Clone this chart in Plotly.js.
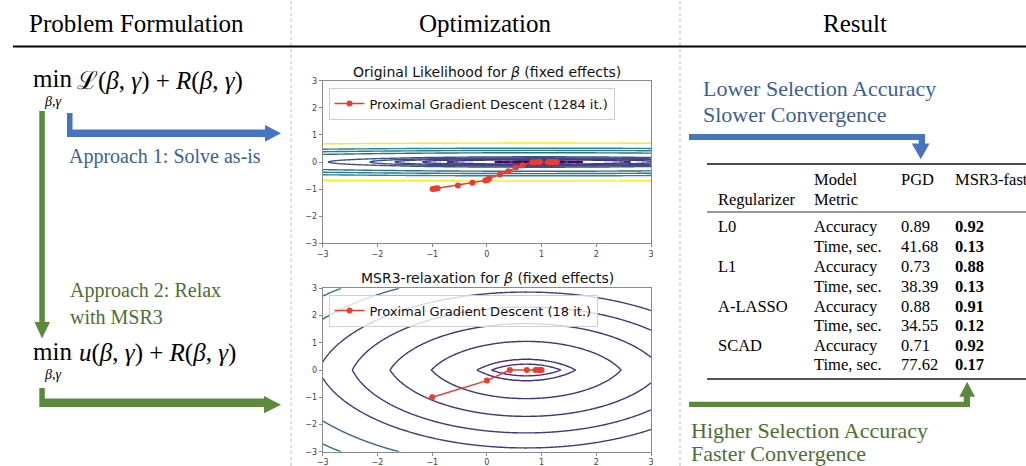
<!DOCTYPE html>
<html>
<head>
<meta charset="utf-8">
<script src="https://cdn.plot.ly/plotly-3.0.1.min.js"></script>
<style>html,body{margin:0;padding:0;background:#fff;}#chart{width:1026px;height:466px;}</style>
</head>
<body>
<div id="chart"></div>
<script>
// ---------------- data ----------------
// Top panel: proximal gradient descent path on original likelihood (1284 it.)
const pgdX = [-0.99, -0.96, -0.93, -0.90, -0.53, -0.265, -0.03, 0.01, 0.04, 0.24, 0.39, 0.53, 0.65, 0.83, 0.87, 0.94, 0.97, 1.12, 1.16, 1.20, 1.24, 1.28];
const pgdY = [-1.00, -0.99, -0.98, -0.97, -0.87, -0.77, -0.68, -0.66, -0.61, -0.46, -0.34, -0.20, -0.12, -0.01, -0.01, 0, 0, 0, 0, 0, 0, 0];
// Bottom panel: proximal gradient descent path on MSR3 relaxation (18 it.)
const msrX = [-1.00, 0.00, 0.42, 0.73, 0.89, 0.95, 0.98, 1.00];
const msrY = [-1.00, -0.39, 0.00, 0.00, 0.00, 0.00, 0.00, 0.00];

// contour levels of the two objective surfaces
const levelsTop = [0.24, 0.64, 2.8, 4.5, 6.9, 9.5, 14.7, 47, 73, 104, 195];
const levelsBottom = [0.4, 0.8, 3.0, 6.2, 10.1, 14.4, 21.0, 27.0];
// parameters of the surfaces
const topCenter = 0.95, topYScale = 400;              // L(b) ~ (x-c)^2 + K*y^2
const botCenter = 0.72, botQuad = 1.2, botAbs = 1.6;  // u(b) ~ (x-c)^2 + q*y^2 + a*|y|

const tickVals = [-3, -2, -1, 0, 1, 2, 3];
const tickText = ['\u22123', '\u22122', '\u22121', '0', '1', '2', '3'];

const headers = ['Problem Formulation', 'Optimization', 'Result'];
const tableHead1 = ['', 'Model', 'PGD', 'MSR3-fast'];
const tableHead2 = ['Regularizer', 'Metric', '', ''];
const regularizers = ['L0', '', 'L1', '', 'A-LASSO', '', 'SCAD', ''];
const metrics = ['Accuracy', 'Time, sec.', 'Accuracy', 'Time, sec.', 'Accuracy', 'Time, sec.', 'Accuracy', 'Time, sec.'];
const pgdVals = ['0.89', '41.68', '0.73', '38.39', '0.88', '34.55', '0.71', '77.62'];
const msr3Vals = ['0.92', '0.13', '0.88', '0.13', '0.91', '0.12', '0.92', '0.17'];

// ---------------- styles ----------------
const colorsTop = ['#440154', '#45075a', '#46307e', '#443a83', '#414487', '#3e4c8a', '#3b528b', '#2e6f8e', '#2a7b8e', '#26888d', '#fde725'];
const colorsBottom = ['#46307e', '#46307e', '#45327f', '#45327f', '#443581', '#433882', '#33648d', '#2c768e'];
const W = 1026, H = 466;
const X = px => px / W;
const Y = py => 1 - py / H;
const BLUE = '#4674c1', BLUE_T = '#3d5f94', GREEN = '#5b8a3d', GREEN_T = '#4c6f34';
const SERIF = 'Liberation Serif, Times New Roman, serif';
const SANS = 'DejaVu Sans, sans-serif';

// ---------------- surfaces ----------------
function grid(a, b, n) { const r = []; for (let i = 0; i < n; i++) r.push(a + (b - a) * i / (n - 1)); return r; }
function levelIndex(z, lv) {
  if (z <= lv[0]) return -1 + z / lv[0];
  for (let k = 1; k < lv.length; k++) if (z <= lv[k]) return (k - 1) + (z - lv[k - 1]) / (lv[k] - lv[k - 1]);
  const n = lv.length; return (n - 1) + (z - lv[n - 1]) / lv[n - 1];
}
function surface(xs, ys, f, lv) { return ys.map(y => xs.map(x => levelIndex(f(x, y), lv))); }
function scale(cols) { const n = cols.length; return cols.map((c, i) => [i / (n - 1), c]); }

const xsT = grid(-3, 3, 241), ysT = grid(-1.2, 1.2, 481);
const zT = surface(xsT, ysT, (x, y) => (x - topCenter) ** 2 + topYScale * y * y, levelsTop);
const xsB = grid(-3, 3, 241), ysB = grid(-3, 3, 301);
const zB = surface(xsB, ysB, (x, y) => (x - botCenter) ** 2 + botQuad * y * y + botAbs * Math.abs(y), levelsBottom);

function contourTrace(xs, ys, z, lv, cols, xa, ya) {
  return { type: 'contour', x: xs, y: ys, z: z, xaxis: xa, yaxis: ya,
    contours: { coloring: 'lines', start: 0, end: lv.length - 1, size: 1, showlabels: false },
    line: { width: 1.4, smoothing: 1 }, colorscale: scale(cols), zmin: 0, zmax: lv.length - 1,
    showscale: false, showlegend: false, hoverinfo: 'skip' };
}

const traces = [
  contourTrace(xsT, ysT, zT, levelsTop, colorsTop, 'x', 'y'),
  { type: 'scatter', mode: 'lines+markers', x: pgdX, y: pgdY, xaxis: 'x', yaxis: 'y',
    name: 'Proximal Gradient Descent (1284 it.)', legend: 'legend',
    line: { color: '#ee3b2f', width: 1.5 }, marker: { color: '#ee3b2f', size: 6 } },
  contourTrace(xsB, ysB, zB, levelsBottom, colorsBottom, 'x2', 'y2'),
  { type: 'scatter', mode: 'lines+markers', x: msrX, y: msrY, xaxis: 'x2', yaxis: 'y2',
    name: 'Proximal Gradient Descent (18 it.)', legend: 'legend2',
    line: { color: '#ee3b2f', width: 1.5 }, marker: { color: '#ee3b2f', size: 6 } }
];

function axis(domain, anchor) {
  return { domain: domain, anchor: anchor, range: [-3, 3], tickvals: tickVals, ticktext: tickText,
    showgrid: false, zeroline: false, showline: true, mirror: true, linecolor: '#8a8a8a', linewidth: 1,
    ticks: 'outside', ticklen: 3, tickcolor: '#8a8a8a', tickfont: { family: SANS, size: 8, color: '#444' } };
}

// ---------------- annotations ----------------
const ann = [];
function txt(text, x, y, size, color, opts) {
  ann.push(Object.assign({ text: text, xref: 'paper', yref: 'paper', x: X(x), y: Y(y), showarrow: false,
    xanchor: 'left', yanchor: 'middle', font: { family: SERIF, size: size, color: color } }, opts || {}));
}
txt(headers[0], 136, 23, 25, '#000', { xanchor: 'center' });
txt(headers[1], 485, 23, 25, '#000', { xanchor: 'center' });
txt(headers[2], 855, 23, 25, '#000', { xanchor: 'center' });

// math
txt('min', 52.5, 79, 25, '#000', { xanchor: 'center' });
txt('<i>β</i>,<i>γ</i>', 52.5, 102, 14, '#000', { xanchor: 'center' });
txt('ℒ(<i>β</i>, <i>γ</i>) + <i>R</i>(<i>β</i>, <i>γ</i>)', 75, 81, 25, '#000');
txt('min', 52.5, 351, 25, '#000', { xanchor: 'center' });
txt('<i>β</i>,<i>γ</i>', 52.5, 374, 14, '#000', { xanchor: 'center' });
txt('<i>u</i>(<i>β</i>, <i>γ</i>) + <i>R</i>(<i>β</i>, <i>γ</i>)', 77, 353, 25, '#000');

txt('Approach 1: Solve as-is', 67, 156, 20, BLUE_T);
txt('Approach 2: Relax', 68, 290, 20, GREEN_T);
txt('with MSR3', 68, 317, 20, GREEN_T);

txt('Lower Selection Accuracy', 701, 88, 22, BLUE_T);
txt('Slower Convergence', 701, 114, 22, BLUE_T);
txt('Higher Selection Accuracy', 689, 430, 22, GREEN_T);
txt('Faster Convergence', 689, 453, 22, GREEN_T);

// subplot titles
txt('Original Likelihood for <i>β</i> (fixed effects)', 487, 72, 14, '#111', { xanchor: 'center', font: { family: SANS, size: 14, color: '#111' } });
txt('MSR3-relaxation for <i>β</i> (fixed effects)', 487, 278, 14, '#111', { xanchor: 'center', font: { family: SANS, size: 14, color: '#111' } });

// table
const colX = [716, 812, 899, 953];
for (let c = 0; c < 4; c++) {
  if (tableHead1[c]) txt(tableHead1[c], colX[c], 179, 16.5, '#000');
  if (tableHead2[c]) txt(tableHead2[c], colX[c], 199, 16.5, '#000');
}
const rowY = [227, 246.5, 266, 286, 306, 325.5, 345, 364.5];
for (let r = 0; r < rowY.length; r++) {
  if (regularizers[r]) txt(regularizers[r], colX[0], rowY[r], 16.5, '#000');
  txt(metrics[r], colX[1], rowY[r], 16.5, '#000');
  txt(pgdVals[r], colX[2], rowY[r], 16.5, '#000');
  txt('<b>' + msr3Vals[r] + '</b>', colX[3], rowY[r], 16.5, '#000');
}

// ---------------- shapes ----------------
const shapes = [];
function poly(pts, color) {
  const d = pts.map((p, i) => (i ? 'L' : 'M') + X(p[0]).toFixed(5) + ',' + Y(p[1]).toFixed(5)).join(' ') + ' Z';
  shapes.push({ type: 'path', xref: 'paper', yref: 'paper', path: d, fillcolor: color, line: { width: 0 } });
}
function hline(x0, x1, y, color, w) {
  shapes.push({ type: 'line', xref: 'paper', yref: 'paper', x0: X(x0), x1: X(x1), y0: Y(y), y1: Y(y), line: { color: color, width: w } });
}
function vdots(x) {
  shapes.push({ type: 'line', xref: 'paper', yref: 'paper', x0: X(x), x1: X(x), y0: 0, y1: 1, line: { color: '#c4c4c4', width: 1.2, dash: 'dot' } });
}
vdots(291); vdots(680);
hline(13, 1026, 46.5, '#000', 2);
// table rules
hline(707, 1026, 164, '#111', 1.5);
hline(707, 1026, 212, '#333', 1);
hline(707, 1026, 379, '#555', 2);

// arrows (bar + head polygons)
poly([[67, 113], [72.5, 113], [72.5, 129.5], [265, 129.5], [265, 125], [281, 133.3], [265, 141.7], [265, 137], [67, 137]], BLUE);
poly([[39.3, 111], [44.8, 111], [44.8, 322], [50, 322], [42, 338.5], [34.5, 322], [39.3, 322]], GREEN);
poly([[39.3, 388], [44.8, 388], [44.8, 398.5], [264, 398.5], [264, 396], [281, 404.7], [264, 413.3], [264, 407], [39.3, 407]], GREEN);
poly([[689, 134], [925, 134], [925, 143.5], [929.5, 143.5], [920.8, 159.3], [911.8, 143.5], [918.7, 143.5], [918.7, 140], [689, 140]], BLUE);
poly([[689, 407], [970, 407], [970, 396.8], [975, 396.8], [967.2, 381.7], [959.3, 396.8], [963.8, 396.8], [963.8, 401.7], [689, 401.7]], GREEN);

const legendStyle = { xref: 'paper', yref: 'paper', xanchor: 'left', yanchor: 'top', bgcolor: 'rgba(255,255,255,0.8)',
  bordercolor: '#d0d0d0', borderwidth: 1, font: { family: SANS, size: 13, color: '#111' } };

const layout = {
  width: W, height: H, margin: { l: 0, r: 0, t: 0, b: 0 }, paper_bgcolor: '#fff', plot_bgcolor: '#fff',
  xaxis: axis([X(322.7), X(651)], 'y'), yaxis: axis([Y(243.3), Y(80.7)], 'x'),
  xaxis2: axis([X(322.7), X(651)], 'y2'), yaxis2: axis([Y(451.7), Y(288.3)], 'x2'),
  legend: Object.assign({ x: X(328.5), y: Y(87.5) }, legendStyle),
  legend2: Object.assign({ x: X(328.5), y: Y(294.5) }, legendStyle),
  annotations: ann, shapes: shapes, showlegend: true
};
Plotly.newPlot('chart', traces, layout, { staticPlot: true });
</script>
</body>
</html>
